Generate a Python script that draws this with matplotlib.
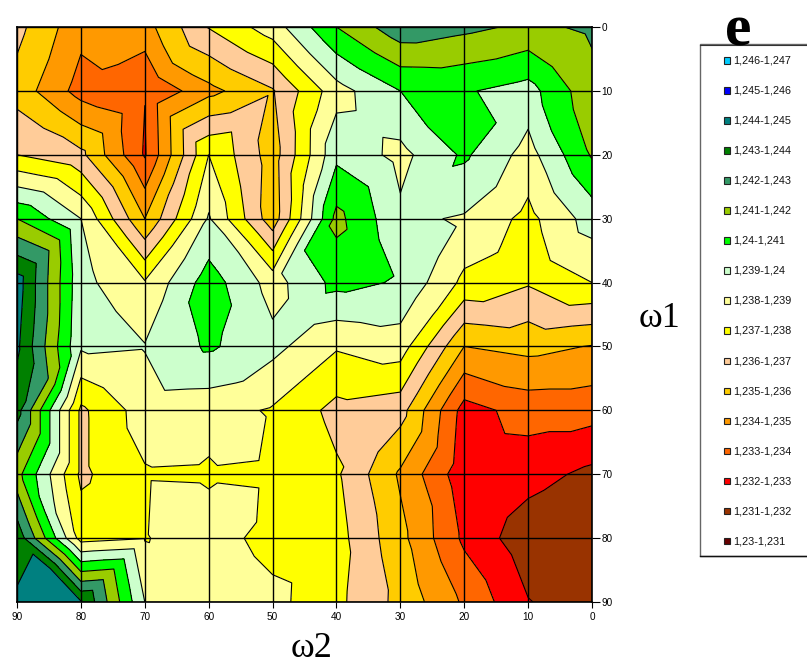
#!/usr/bin/env python3
"""Contour map of e over omega1 / omega2, Excel style (each cell split in 4 triangles)."""
import matplotlib
matplotlib.use("Agg")
import matplotlib.pyplot as plt
import matplotlib.tri as mtri
from matplotlib.patches import Rectangle
import numpy as np

W, H = 807, 664

omega2 = [90, 80, 70, 60, 50, 40, 30, 20, 10, 0]
omega1 = [0, 10, 20, 30, 40, 50, 60, 70, 80, 90]
omega2_mid = [85, 75, 65, 55, 45, 35, 25, 15, 5]
omega1_mid = [5, 15, 25, 35, 45, 55, 65, 75, 85]
e_base = 1.23
# e above e_base, in thousandths. rows: omega1, columns: omega2
row_00 = [6.3, 4.3, 4.6, 7.05, 8.5, 11.0, 12.65, 12.25, 11.8, 12.15]
row_10 = [5.6, 3.6, 3.03, 4.7, 5.9, 8.6, 10.0, 10.1, 9.6, 11.7]
row_20 = [7.0, 6.25, 2.9, 8.0, 5.5, 9.75, 8.7, 10.17, 8.6, 11.1]
row_30 = [11.0, 9.0, 5.0, 9.1, 5.4, 11.3, 9.2, 8.9, 7.7, 9.45]
row_40 = [14.5, 9.3, 8.1, 10.5, 8.6, 10.3, 9.9, 7.75, 7.1, 8.0]
row_50 = [14.2, 9.15, 9.05, 10.15, 9.3, 8.1, 8.5, 5.0, 5.3, 4.95]
row_60 = [13.4, 6.8, 8.5, 8.4, 7.9, 6.7, 6.4, 2.6, 3.4, 3.4]
row_70 = [11.35, 6.8, 7.9, 7.85, 7.7, 7.15, 4.85, 2.35, 2.4, 1.75]
row_80 = [13.7, 7.6, 7.95, 8.5, 7.6, 7.4, 5.3, 2.8, 1.35, 1.2]
row_90 = [14.1, 14.1, 9.0, 8.6, 8.3, 7.25, 5.7, 3.85, 2.05, 1.4]
# same, read at the middle of every grid cell
mid_05 = [5.0, 4.2, 5.3, 6.6, 8.6, 10.6, 11.35, 11.0, 11.45]
mid_15 = [5.8, 4.4, 5.5, 6.6, 7.6, 9.25, 10.2, 10.0, 10.5]
mid_25 = [8.6, 6.0, 6.35, 7.0, 8.1, 10.0, 9.7, 9.0, 9.3]
mid_35 = [12.0, 8.5, 8.5, 8.9, 10.0, 10.4, 9.3, 8.05, 8.4]
mid_45 = [11.9, 9.1, 9.7, 9.8, 9.4, 9.3, 8.05, 6.5, 6.6]
mid_55 = [11.95, 8.5, 9.3, 9.1, 8.0, 7.6, 5.65, 4.2, 4.3]
mid_65 = [10.1, 7.6, 8.35, 8.4, 7.5, 6.5, 4.3, 2.85, 2.8]
mid_75 = [9.4, 7.5, 8.4, 8.4, 7.4, 6.25, 4.0, 2.35, 1.6]
mid_85 = [14.3, 11.1, 8.3, 8.3, 7.8, 6.5, 4.45, 2.6, 1.35]

levels = [1.230, 1.231, 1.232, 1.233, 1.234, 1.235, 1.236, 1.237, 1.238,
          1.239, 1.240, 1.241, 1.242, 1.243, 1.244, 1.245, 1.246, 1.247]
colors = ["#660000", "#993300", "#FF0000", "#FF6600", "#FF9900", "#FFCC00",
          "#FFCC99", "#FFFF00", "#FFFF99", "#CCFFCC", "#00FF00", "#99CC00",
          "#339966", "#008000", "#008080", "#0000FF", "#00CCFF"]
legend_labels = ["1,23-1,231", "1,231-1,232", "1,232-1,233", "1,233-1,234",
                 "1,234-1,235", "1,235-1,236", "1,236-1,237", "1,237-1,238",
                 "1,238-1,239", "1,239-1,24", "1,24-1,241", "1,241-1,242",
                 "1,242-1,243", "1,243-1,244", "1,244-1,245", "1,245-1,246",
                 "1,246-1,247"]

plt.rcParams["font.family"] = ["Liberation Sans", "DejaVu Sans"]

Z = e_base + np.array([row_00, row_10, row_20, row_30, row_40, row_50,
                       row_60, row_70, row_80, row_90]) / 1000.0
Zm = e_base + np.array([mid_05, mid_15, mid_25, mid_35, mid_45, mid_55,
                        mid_65, mid_75, mid_85]) / 1000.0
X, Y = np.meshgrid(omega2, omega1)
Xm, Ym = np.meshgrid(omega2_mid, omega1_mid)

# every cell: 4 triangles around its middle point
nr, nc = Z.shape
xs = np.r_[X.ravel(), Xm.ravel()]
ys = np.r_[Y.ravel(), Ym.ravel()]
zs = np.r_[Z.ravel(), Zm.ravel()]
tris = []
for r in range(nr - 1):
    for c in range(nc - 1):
        a, b = r * nc + c, r * nc + c + 1
        d, e = (r + 1) * nc + c, (r + 1) * nc + c + 1
        m = nr * nc + r * (nc - 1) + c
        tris += [[a, b, m], [b, e, m], [e, d, m], [d, a, m]]
tri = mtri.Triangulation(xs, ys, tris)

fig = plt.figure(figsize=(W / 100, H / 100), dpi=100)
ax = fig.add_axes([17 / W, 1 - 602 / H, 575 / W, 575 / H])
ax.tricontourf(tri, zs, levels=levels, colors=colors)
ax.tricontour(tri, zs, levels=levels, colors="black", linewidths=0.8)
ax.set_xlim(90, 0)
ax.set_ylim(90, 0)
ax.set_xticks(omega2)
ax.set_yticks(omega1)
ax.yaxis.tick_right()
ax.tick_params(axis="x", labelsize=7.2, length=4.5, width=0.8, pad=3)
ax.tick_params(axis="y", labelsize=7.2, length=6, width=0.8, pad=1)
ax.grid(True, color="black", lw=1.0)
ax.set_axisbelow(False)
for sp in ax.spines.values():
    sp.set_linewidth(1.2)

fig.text(312 / W, 1 - 657 / H, "ω2", family="Liberation Serif", fontsize=26, ha="center", va="baseline")
fig.text(660 / W, 1 - 327 / H, "ω1", family="Liberation Serif", fontsize=26, ha="center", va="baseline")
fig.text(738 / W, 1 - 45 / H, "e", family="Liberation Serif", fontsize=43, fontweight="bold",
         ha="center", va="baseline")

# legend box runs off the right edge of the picture
lax = fig.add_axes([0, 0, 1, 1], facecolor="none")
lax.set_xlim(0, W)
lax.set_ylim(H, 0)
lax.axis("off")
lax.add_patch(Rectangle((700, 44), 120, 512, fc="white", ec="#666666", lw=1.0, zorder=1))
lax.plot([700, 807], [44.5, 44.5], color="#333333", lw=0.8, zorder=2)
lax.plot([700, 807], [555.5, 555.5], color="#111111", lw=1.0, zorder=2)
for i, (lab, col) in enumerate(zip(legend_labels[::-1], colors[::-1])):
    yc = 60.5 + i * 30.05
    lax.add_patch(Rectangle((723.5, yc - 3.5), 6.5, 6.5, fc=col, ec="#222222", lw=0.8, zorder=3))
    lax.text(733, yc, lab, fontsize=7.8, va="center", ha="left", color="#111111", zorder=3)

fig.savefig("out.png", dpi=100)
